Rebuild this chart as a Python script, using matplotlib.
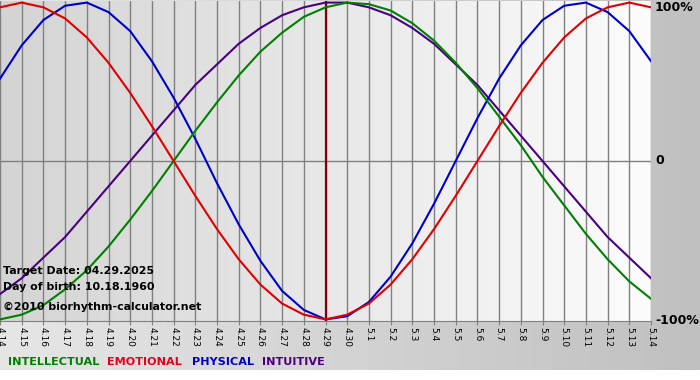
import numpy as np
import matplotlib
matplotlib.use("Agg")
import matplotlib.pyplot as plt
from matplotlib.colors import LinearSegmentedColormap

# biorhythm chart, 4.14 - 5.14 (one per day)
days = ["4.14", "4.15", "4.16", "4.17", "4.18", "4.19", "4.20", "4.21", "4.22",
        "4.23", "4.24", "4.25", "4.26", "4.27", "4.28", "4.29", "4.30",
        "5.1", "5.2", "5.3", "5.4", "5.5", "5.6", "5.7", "5.8", "5.9", "5.10",
        "5.11", "5.12", "5.13", "5.14"]
target_day = "4.29"

physical = [0.52, 0.73, 0.89, 0.98, 1.00, 0.94, 0.82, 0.63, 0.40, 0.14,
            -0.14, -0.40, -0.63, -0.82, -0.94, -1.00, -0.98, -0.89, -0.73, -0.52,
            -0.27, 0.00, 0.27, 0.52, 0.73, 0.89, 0.98, 1.00, 0.94, 0.82, 0.63]
emotional = [0.97, 1.00, 0.97, 0.90, 0.78, 0.62, 0.43, 0.22, 0.00, -0.22,
             -0.43, -0.62, -0.78, -0.90, -0.97, -1.00, -0.97, -0.90, -0.78, -0.62,
             -0.43, -0.22, 0.00, 0.22, 0.43, 0.62, 0.78, 0.90, 0.97, 1.00, 0.97]
intellectual = [-1.00, -0.97, -0.91, -0.81, -0.69, -0.54, -0.37, -0.19, 0.00, 0.19,
                0.37, 0.54, 0.69, 0.81, 0.91, 0.97, 1.00, 0.99, 0.95, 0.87,
                0.76, 0.62, 0.46, 0.28, 0.10, -0.10, -0.28, -0.46, -0.62, -0.76, -0.87]
intuitive = [-0.84, -0.74, -0.61, -0.48, -0.32, -0.16, 0.00, 0.16, 0.32, 0.48,
             0.61, 0.74, 0.84, 0.92, 0.97, 1.00, 1.00, 0.97, 0.92, 0.84,
             0.74, 0.61, 0.48, 0.32, 0.16, 0.00, -0.16, -0.32, -0.48, -0.61, -0.74]

GREEN = "#008000"
RED = "#e00000"
BLUE = "#0000cc"
PURPLE = "#4b0082"

W, H = 700, 380
fig = plt.figure(figsize=(W / 100, H / 100), dpi=100, facecolor="white")

# outer grey gradient (white strip at the very bottom)
bg = fig.add_axes([0, 0, 1, 1], zorder=-1)
outer = LinearSegmentedColormap.from_list("outer", ["#e6e6e6", "#c0c0c0"])
bg.imshow(np.linspace(0, 1, 256)[None, :], cmap=outer, aspect="auto",
          extent=[0, 1, 10 / H, 1])
bg.set_xlim(0, 1)
bg.set_ylim(0, 1)
bg.axis("off")

ax = fig.add_axes([0, 59 / H, 651 / W, 320 / H])
ax.set_facecolor("none")
x = np.arange(len(days))
inner = LinearSegmentedColormap.from_list("inner", ["#d4d4d4", "#fcfcfc"])
ax.imshow(np.linspace(0, 1, 256)[None, :], cmap=inner, aspect="auto",
          extent=[x[0], x[-1], -1.01, 1.01], zorder=0)

for xi in x:
    ax.axvline(xi, color="#808080", lw=1, zorder=1)
ax.axhline(0, color="#808080", lw=1, zorder=1)
ax.axvline(days.index(target_day), color="#800000", lw=1.6, zorder=2)

ax.plot(x, intuitive, color=PURPLE, lw=1.5, zorder=3)
ax.plot(x, physical, color=BLUE, lw=1.5, zorder=3)
ax.plot(x, intellectual, color=GREEN, lw=1.5, zorder=3)
ax.plot(x, emotional, color=RED, lw=1.5, zorder=3)

ax.set_xlim(x[0], x[-1])
ax.set_ylim(-1.01, 1.01)
ax.set_xticks(x)
ax.set_xticklabels(days, rotation=270, fontsize=6.5)
ax.tick_params(axis="x", length=3, color="#808080", pad=1.5)
ax.set_yticks([])
for s in ["top", "left", "right"]:
    ax.spines[s].set_visible(False)
ax.spines["bottom"].set_color("#808080")

ax.text(1.006, 1.0, "100%", transform=ax.transAxes, ha="left", va="top",
        fontsize=9, fontweight="bold")
ax.text(1.006, 0.5, "0", transform=ax.transAxes, ha="left", va="center",
        fontsize=9, fontweight="bold")
ax.text(1.006, 0.0, "-100%", transform=ax.transAxes, ha="left", va="center",
        fontsize=9, fontweight="bold")

info = ["Target Date: 04.29.2025", "Day of birth: 10.18.1960"]
fig.text(3 / W, 1 - 271 / H, info[0], fontsize=7.9, fontweight="bold", va="center")
fig.text(3 / W, 1 - 287 / H, info[1], fontsize=7.9, fontweight="bold", va="center")
fig.text(3 / W, 1 - 307 / H, "\u00a92010 biorhythm-calculator.net",
         fontsize=7.9, fontweight="bold", va="center")

legend_names = ["INTELLECTUAL", "EMOTIONAL", "PHYSICAL", "INTUITIVE"]
legend_colors = [GREEN, "#e8001a", BLUE, PURPLE]
legend_x = [8, 107, 192, 262]
for name, col, lx in zip(legend_names, legend_colors, legend_x):
    fig.text(lx / W, 1 - 362 / H, name, color=col, fontsize=8.1,
             fontweight="bold", va="center")

fig.savefig("out.png", dpi=100)
